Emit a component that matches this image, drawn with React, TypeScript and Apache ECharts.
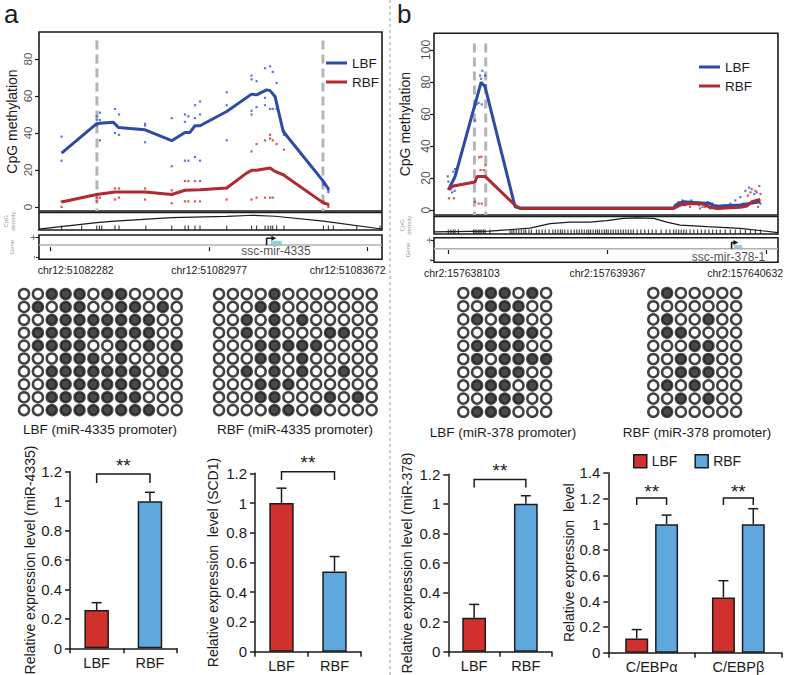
import { useEffect, useRef } from 'react';
import * as echarts from 'echarts';

const FONT = "'Liberation Sans', Arial, Helvetica, sans-serif";
const INK = '#1b1b1b';
const LBF_LINE = '#2d4ba5';
const RBF_LINE = '#b02a30';
const LBF_DOT = '#3456cc';
const RBF_DOT = '#c42f2f';
const BAR_RED = '#d1312c';
const BAR_BLUE = '#5fa8de';
const GENE_CYAN = '#8fd3de';
const DASH_GREY = '#b4b4b4';

// ---------------- panel a : methylation track ----------------
const chromA = 'chr12';
const originA = 51082282;
const axisTicksA = [51082282, 51082977, 51083672];
const windowA = [51082231, 51083735];
const methTicksA = [0, 20, 40, 60, 80];
const methRangeA = [-2.2, 94.6];
const promoterEdgesA = [203, 1194];
const lbfCurveA = [[48, 29.1], [202, 45], [216, 45.3], [275, 45.8], [297, 43], [414, 41.7], [531, 35.8], [589, 40.3], [611, 40.3], [633, 43.9], [655, 43.9], [772, 51.6], [881, 61], [903, 60.6], [947, 63.3], [962, 62.9], [984, 59.7], [1020, 40.8], [1196, 13.8], [1220, 9.3]];
const rbfCurveA = [[48, 2.7], [202, 6.7], [282, 8.1], [414, 8.1], [531, 6.7], [589, 9], [655, 9.3], [772, 10.2], [859, 18.3], [881, 19.8], [903, 19.8], [962, 21], [984, 19.2], [1020, 17.4], [1196, 2.2], [1220, 1.3]];
const lbfSitesA = [[48, 38], [48, 25], [202, 49], [202, 47], [202, 44], [216, 51], [216, 47], [216, 36], [282, 53], [282, 40], [300, 50], [300, 39], [414, 45], [414, 44], [414, 35], [531, 48], [531, 22], [589, 50], [589, 46], [589, 25], [604, 49], [604, 25], [633, 55], [633, 27], [633, 48], [655, 57], [655, 50], [655, 25], [772, 62], [772, 55], [772, 36], [881, 71], [881, 69], [881, 52], [881, 50], [903, 68], [903, 54], [940, 75], [940, 59], [940, 55], [962, 76], [962, 53], [974, 73], [974, 53], [991, 67], [991, 53], [1023, 41], [1023, 39], [1196, 12], [1196, 13], [1218, 9], [1218, 8]];
const rbfSitesA = [[48, 0], [48, 3], [202, 5], [202, 3], [216, 5], [282, 10], [282, 4], [300, 10], [300, 5], [414, 10], [414, 4], [531, 9], [531, 7], [531, 2], [589, 14], [589, 3], [604, 14], [604, 3], [633, 14], [633, 3], [655, 14], [655, 3], [772, 10], [772, 4], [881, 30], [881, 4], [903, 34], [903, 5], [940, 36], [940, 5], [962, 39], [962, 37], [962, 5], [974, 36], [974, 5], [991, 34], [1023, 31], [1196, 3], [1196, 2], [1218, 1], [1218, 0]];
const densityA = [[-53, 0.05], [202, 0.45], [282, 0.55], [531, 0.76], [772, 0.84], [889, 0.91], [984, 0.85], [1196, 0.55], [1451, 0.06]];
const cpgSitesA = [48, 136, 202, 214, 224, 282, 300, 417, 531, 589, 604, 633, 655, 772, 881, 903, 940, 954, 965, 974, 991, 1023, 1196, 1218, 1240, 1342, 1444];
const geneNameA = 'ssc-mir-4335';
const geneBoxA = [965, 1013];
const geneArrowA = [947, 979];
const geneLabelAtA = 988;

// ---------------- panel b : methylation track ----------------
const chromB = 'chr2';
const originB = 157638103;
const axisTicksB = [157638103, 157639367, 157640632];
const windowB = [157637989, 157640722];
const methTicksB = [0, 20, 40, 60, 80, 100];
const methRangeB = [-3.1, 110.4];
const promoterEdgesB = [207, 297];
const lbfCurveB = [[0, 12.5], [53, 20.8], [260, 79.8], [292, 77], [530, 2], [570, 1.3], [1789, 1.3], [1815, 3.7], [1868, 5.2], [2080, 4.1], [2120, 2], [2160, 2.5], [2319, 3.1], [2478, 5.2]];
const rbfCurveB = [[0, 13], [40, 15], [212, 17.5], [228, 21], [292, 21], [530, 3], [570, 1], [1789, 1], [1842, 3.1], [1921, 4.1], [2027, 3.7], [2080, 1.7], [2133, 1], [2319, 1.7], [2372, 2.5], [2412, 5.2], [2478, 6.6]];
const lbfSitesB = [[0, 17.7], [8, 13.5], [40, 24], [50, 12], [53, 25.6], [-5, 21], [20, 13], [30, 11], [212, 56], [225, 66], [240, 66.9], [252, 84], [260, 82], [265, 66], [270, 87], [292, 84], [298, 78], [1800, 3], [1830, 5], [1860, 6], [1880, 5], [1900, 4], [1930, 6], [1960, 5], [1990, 3], [2020, 2], [2060, 5], [2100, 4], [2130, 3], [2170, 2], [2200, 3], [2240, 4], [2280, 6], [2320, 8], [2360, 12], [2390, 14], [2410, 13], [2430, 10], [2450, 11], [2470, 6], [2480, 4]];
const rbfSitesB = [[5, 7.3], [45, 7.3], [212, 5.2], [240, 4], [245, 33], [255, 25], [262, 33.3], [265, 4], [280, 25], [295, 28], [1810, 2], [1850, 4], [1880, 3], [1920, 2], [1960, 4], [2000, 1], [2040, 2], [2080, 1], [2120, 3], [2160, 1], [2200, 2], [2250, 3], [2300, 2], [2340, 4], [2380, 9], [2400, 11], [2440, 12], [2460, 2], [2470, 15], [2480, 10]];
const densityB = [[-114, 0.13], [331, 0.18], [649, 0.36], [808, 0.64], [967, 0.73], [1126, 0.73], [1259, 0.82], [1391, 0.96], [1497, 1.0], [1630, 0.96], [1736, 0.73], [1842, 0.55], [2054, 0.45], [2319, 0.35], [2618, 0.09]];
const cpgSitesB = [0, 20, 40, 53, 80, 200, 212, 225, 240, 252, 265, 280, 292, 330, 490, 505, 520, 540, 560, 580, 600, 615, 640, 660, 700, 720, 745, 770, 800, 830, 850, 870, 890, 905, 925, 950, 975, 1000, 1020, 1040, 1060, 1080, 1100, 1115, 1130, 1150, 1170, 1185, 1200, 1220, 1240, 1255, 1270, 1290, 1310, 1330, 1350, 1370, 1390, 1410, 1430, 1450, 1470, 1500, 1530, 1560, 1590, 1620, 1650, 1690, 1730, 1760, 1790, 1810, 1830, 1850, 1870, 1890, 1920, 1950, 1980, 2010, 2040, 2070, 2100, 2130, 2160, 2200, 2240, 2280, 2320, 2360, 2400, 2440, 2480];
const geneNameB = 'ssc-mir-378-1';
const geneBoxB = [2268, 2335];
const geneArrowB = [2250, 2285];
const geneLabelAtB = 2226;

// gene strand ticks (+ / -)
const strandTicks = [0.82, -0.82];
const densityTitle = 'CpG\ndensity';
const geneTitle = 'Gene';

// ---------------- bisulfite clones (1 = methylated CpG) ----------------
const clonesLbfA = ['001110110000', '010110011010', '001111111100', '011111111100', '011110010101', '000111010000', '001111111010', '001111111000', '001111111000', '001111111100'];
const clonesRbfA = ['000010000000', '000110000000', '001010100000', '001010001100', '000111110000', '000110100000', '001010100100', '000111000000', '000110001010', '000011010000'];
const clonesLbfB = ['0111010', '0011100', '0101100', '0011110', '0111100', '0101111', '0011100', '0111010', '0011100', '0111000'];
const clonesRbfB = ['0100000', '0000000', '0100100', '0110000', '0001100', '0010100', '0011100', '0101000', '0010100', '0100000'];
const cloneTitles = ['LBF (miR-4335 promoter)', 'RBF (miR-4335 promoter)', 'LBF (miR-378 promoter)', 'RBF (miR-378 promoter)'];

// ---------------- qPCR bars ----------------
const groups = ['LBF', 'RBF'];
const mir4335Mean = [0.26, 1.0];
const mir4335Err = [0.05, 0.06];
const scd1Mean = [1.0, 0.54];
const scd1Err = [0.1, 0.1];
const mir378Mean = [0.23, 1.0];
const mir378Err = [0.09, 0.055];
const cebpGenes = ['C/EBPα', 'C/EBPβ'];
const cebpLbfMean = [0.11, 0.43];
const cebpLbfErr = [0.07, 0.13];
const cebpRbfMean = [1.0, 1.0];
const cebpRbfErr = [0.07, 0.12];
const barTicks12 = [0, 1.2, 0.2];
const barTicks14 = [0, 1.4, 0.2];

const shift = (origin: number, pts: number[][]) => pts.map(([o, v]) => [origin + o, v]);

function tf(size: number, extra: any = {}) {
  return { fontFamily: FONT, fontSize: size, color: INK, ...extra };
}

function buildOption() {
  const grid: any[] = [];
  const xAxis: any[] = [];
  const yAxis: any[] = [];
  const series: any[] = [];

  const addGrid = (g: any) => {
    grid.push({ outerBoundsMode: 'none', containLabel: false, ...g });
    return grid.length - 1;
  };

  // rotated (R-style) labels, anchored at axis coordinates; shift is leftwards in px
  const rotatedLabels = (g: number, pts: number[][], texts: string[], leftShift: number, size: number, color = INK, lineHeight?: number) => {
    series.push({
      type: 'scatter', name: 'axis text', xAxisIndex: g, yAxisIndex: g, silent: true, z: 6,
      symbolSize: 1, itemStyle: { color: 'transparent' }, clip: false,
      label: {
        show: true, position: 'inside', rotate: 90, offset: [0, -leftShift],
        align: 'center', verticalAlign: 'middle',
        formatter: (p: any) => texts[p.dataIndex],
        fontFamily: FONT, fontSize: size, color, ...(lineHeight ? { lineHeight } : {}),
      },
      data: pts,
    });
  };

  // ---------- genome track panels ----------
  const track = (cfg: any) => {
    const gm = addGrid({ left: cfg.left, top: cfg.methTop, width: cfg.width, height: cfg.methH, show: true, borderColor: INK, borderWidth: 1.6 });
    const gd = addGrid({ left: cfg.left, top: cfg.densTop, width: cfg.width, height: cfg.densH, show: true, borderColor: INK, borderWidth: 1.6 });
    const gg = addGrid({ left: cfg.left, top: cfg.geneTop, width: cfg.width, height: cfg.geneH, show: true, borderColor: INK, borderWidth: 1.6 });
    const [xmin, xmax] = cfg.window;
    xAxis.push({ type: 'value', gridIndex: gm, min: xmin, max: xmax, show: false });
    xAxis.push({ type: 'value', gridIndex: gd, min: xmin, max: xmax, show: false });
    const ticks = cfg.ticks as number[];
    xAxis.push({
      type: 'value', gridIndex: gg, min: xmin, max: xmax,
      axisLine: { show: false }, splitLine: { show: false },
      axisTick: { show: true, length: 4, lineStyle: { color: INK, width: 1.2 }, customValues: ticks },
      axisLabel: {
        customValues: ticks, margin: 5, ...tf(10.5),
        formatter: (v: number) => {
          const i = ticks.findIndex((t) => Math.abs(t - v) < 0.5);
          const t = cfg.chrom + ':' + Math.round(v);
          return i === 0 ? `{f|${t}}` : i === ticks.length - 1 ? `{l|${t}}` : `{m|${t}}`;
        },
        rich: {
          f: { ...tf(10.5), padding: [0, 0, 0, cfg.padFirst] },
          m: { ...tf(10.5) },
          l: { ...tf(10.5), padding: [0, cfg.padLast, 0, 0] },
        },
      },
    });
    yAxis.push({
      type: 'value', gridIndex: gm, min: cfg.methRange[0], max: cfg.methRange[1],
      axisLine: { show: false }, splitLine: { show: false },
      axisTick: { show: true, length: 4, lineStyle: { color: INK, width: 1.2 }, customValues: cfg.methTicks },
      axisLabel: { show: false },
      name: 'CpG methylation', nameLocation: 'middle', nameRotate: 90, nameGap: cfg.nameGap,
      nameTextStyle: tf(14),
    });
    yAxis.push({ type: 'value', gridIndex: gd, min: 0, max: 1.08, show: false });
    yAxis.push({
      type: 'value', gridIndex: gg, min: -1, max: 1,
      axisLine: { show: false }, splitLine: { show: false },
      axisTick: { show: true, length: 3, lineStyle: { color: INK, width: 1 }, customValues: strandTicks },
      axisLabel: { show: false },
    });
    rotatedLabels(gm, cfg.methTicks.map((v: number) => [xmin, v]), cfg.methTicks.map((v: number) => String(v)), cfg.labelOffset, cfg.tickFont);
    rotatedLabels(gg, strandTicks.map((v) => [xmin, v]), strandTicks.map((v) => (v > 0 ? '+' : '-')), cfg.strandOffset, 11);
    rotatedLabels(gd, [[xmin, 0.54]], [densityTitle], cfg.titleOffset, 6, '#777', 7);
    rotatedLabels(gg, [[xmin, 0]], [geneTitle], cfg.titleOffset - 3, 6, '#777');

    const o = cfg.origin;
    cfg.promoter.forEach((p: number) => {
      series.push({
        type: 'line', name: 'promoter', xAxisIndex: gm, yAxisIndex: gm, z: 1, silent: true,
        data: [[o + p, cfg.dashTop], [o + p, cfg.methRange[0]]], symbol: 'none',
        lineStyle: { color: DASH_GREY, width: 3, type: [9, 5] },
      });
    });
    series.push({
      type: 'scatter', name: 'LBF sites', xAxisIndex: gm, yAxisIndex: gm, z: 2, silent: true,
      symbol: 'rect', symbolSize: 2.2, itemStyle: { color: LBF_DOT }, data: shift(o, cfg.lbfSites),
    });
    series.push({
      type: 'scatter', name: 'RBF sites', xAxisIndex: gm, yAxisIndex: gm, z: 2, silent: true,
      symbol: 'rect', symbolSize: 2.2, itemStyle: { color: RBF_DOT }, data: shift(o, cfg.rbfSites),
    });
    series.push({
      type: 'line', name: 'LBF', xAxisIndex: gm, yAxisIndex: gm, z: 4, symbol: 'none',
      color: LBF_LINE, lineStyle: { color: LBF_LINE, width: 3 }, data: shift(o, cfg.lbfCurve),
    });
    series.push({
      type: 'line', name: 'RBF', xAxisIndex: gm, yAxisIndex: gm, z: 4, symbol: 'none',
      color: RBF_LINE, lineStyle: { color: RBF_LINE, width: 3 }, data: shift(o, cfg.rbfCurve),
    });
    series.push({
      type: 'line', name: 'CpG density', xAxisIndex: gd, yAxisIndex: gd, symbol: 'none', silent: true,
      lineStyle: { color: INK, width: 1.2 }, data: shift(o, cfg.density),
    });
    series.push({
      type: 'scatter', name: 'CpG sites', xAxisIndex: gd, yAxisIndex: gd, silent: true,
      symbol: 'rect', symbolSize: [1.2, 4.5], symbolOffset: [0, -2.25], itemStyle: { color: INK },
      data: cfg.sites.map((s: number) => [o + s, 0]),
    });
    series.push({
      type: 'line', name: 'gene axis', xAxisIndex: gg, yAxisIndex: gg, symbol: 'none', silent: true,
      lineStyle: { color: '#b0b0b0', width: 1.5 }, data: [[xmin, cfg.geneLine], [xmax, cfg.geneLine]],
      markArea: {
        silent: true, itemStyle: { color: GENE_CYAN },
        data: [[{ coord: [o + cfg.geneBox[0], cfg.geneLine - 0.02] }, { coord: [o + cfg.geneBox[1], cfg.geneBoxTop] }]],
      },
    });
    series.push({
      type: 'line', name: 'TSS', xAxisIndex: gg, yAxisIndex: gg, silent: true, z: 5,
      lineStyle: { color: INK, width: 1.6 },
      data: [
        { value: [o + cfg.arrow[0], cfg.geneLine], symbol: 'none' },
        { value: [o + cfg.arrow[0], cfg.arrowTop], symbol: 'none' },
        { value: [o + cfg.arrow[1], cfg.arrowTop], symbol: 'triangle', symbolSize: 5, symbolRotate: -90, itemStyle: { color: INK } },
      ],
      symbol: 'none',
    });
    series.push({
      type: 'scatter', name: 'gene name', xAxisIndex: gg, yAxisIndex: gg, silent: true, z: 6,
      symbolSize: 1, itemStyle: { color: 'transparent' },
      label: { show: true, position: 'inside', formatter: cfg.geneName, ...tf(12) },
      data: [[o + cfg.geneLabelAt, cfg.geneLabelY]],
    });
  };

  track({
    left: 39, width: 343, methTop: 32, methH: 179, densTop: 212.5, densH: 17.5, geneTop: 235, geneH: 24.3,
    window: windowA, ticks: axisTicksA, chrom: chromA, origin: originA, padFirst: 50, padLast: 40,
    methRange: methRangeA, methTicks: methTicksA, tickFont: 11.5, labelOffset: 11, strandOffset: 6, titleOffset: 30, nameGap: 20, dashTop: 90,
    promoter: promoterEdgesA, lbfCurve: lbfCurveA, rbfCurve: rbfCurveA, lbfSites: lbfSitesA, rbfSites: rbfSitesA,
    density: densityA, sites: cpgSitesA, geneLine: 0.18, geneBox: geneBoxA, geneBoxTop: 0.53, arrow: geneArrowA,
    arrowTop: 0.73, geneName: geneNameA, geneLabelAt: geneLabelAtA, geneLabelY: -0.32,
  });
  track({
    left: 434, width: 344, methTop: 33.3, methH: 181.7, densTop: 216.5, densH: 17.5, geneTop: 237.7, geneH: 24.6,
    window: windowB, ticks: axisTicksB, chrom: chromB, origin: originB, padFirst: 27, padLast: 43,
    methRange: methRangeB, methTicks: methTicksB, tickFont: 12, labelOffset: 8.5, strandOffset: 5.5, titleOffset: 29, nameGap: 22, dashTop: 104,
    promoter: promoterEdgesB, lbfCurve: lbfCurveB, rbfCurve: rbfCurveB, lbfSites: lbfSitesB, rbfSites: rbfSitesB,
    density: densityB, sites: cpgSitesB, geneLine: 0.1, geneBox: geneBoxB, geneBoxTop: 0.41, arrow: geneArrowB,
    arrowTop: 0.6, geneName: geneNameB, geneLabelAt: geneLabelAtB, geneLabelY: -0.54,
  });

  // ---------- bisulfite lollipops ----------
  const clones = (rows: string[], left: number, top: number, pitchX: number, pitchY: number) => {
    const cols = rows[0].length;
    const g = addGrid({ left: left - pitchX / 2, top: top - pitchY / 2, width: pitchX * cols, height: pitchY * rows.length });
    xAxis.push({ type: 'value', gridIndex: g, min: -0.5, max: cols - 0.5, show: false });
    yAxis.push({ type: 'value', gridIndex: g, min: -0.5, max: rows.length - 0.5, inverse: true, show: false });
    const filled: number[][] = [];
    const open: number[][] = [];
    rows.forEach((row, r) => row.split('').forEach((ch, c) => (ch === '1' ? filled : open).push([c, r])));
    series.push({
      type: 'scatter', name: 'methylated', xAxisIndex: g, yAxisIndex: g, silent: true, symbolSize: 10,
      itemStyle: { color: '#1c1c1c', borderColor: '#1c1c1c', borderWidth: 2.5 }, data: filled,
    });
    series.push({
      type: 'scatter', name: 'unmethylated', xAxisIndex: g, yAxisIndex: g, silent: true, symbolSize: 10,
      itemStyle: { color: '#fff', borderColor: '#111', borderWidth: 2.5 }, data: open,
    });
  };
  clones(clonesLbfA, 24, 294, 13.88, 12.9);
  clones(clonesRbfA, 219, 294, 13.88, 12.9);
  clones(clonesLbfB, 463.3, 293, 13.8, 13.2);
  clones(clonesRbfB, 653.3, 293, 13.8, 13.2);

  // ---------- bar charts ----------
  const errRender = (barFrac: number, gapFrac: number) => (params: any, api: any) => {
    const band = api.size([1, 0])[0];
    const side = api.value(3);
    const off = side * band * barFrac * (1 + gapFrac) / 2;
    const base = api.coord([api.value(0), api.value(1)]);
    const tip = api.coord([api.value(0), api.value(1) + api.value(2)]);
    const x = base[0] + off;
    const st = { stroke: INK, lineWidth: 1.5 };
    return {
      type: 'group',
      children: [
        { type: 'line', shape: { x1: x, y1: base[1], x2: x, y2: tip[1] }, style: st },
        { type: 'line', shape: { x1: x - 5, y1: tip[1], x2: x + 5, y2: tip[1] }, style: st },
      ],
    };
  };
  const bracketRender = (barFrac: number, gapFrac: number) => (params: any, api: any) => {
    const band = api.size([1, 0])[0];
    const unit = band * barFrac * (1 + gapFrac) / 2;
    const top0 = api.coord([api.value(0), api.value(4)]);
    const bot0 = api.coord([api.value(0), api.value(5)]);
    const top1 = api.coord([api.value(2), api.value(4)]);
    const star = api.coord([api.value(0), api.value(6)]);
    const x0 = top0[0] + api.value(1) * unit;
    const x1 = top1[0] + api.value(3) * unit;
    return {
      type: 'group',
      children: [
        {
          type: 'polyline',
          shape: { points: [[x0, bot0[1]], [x0, top0[1]], [x1, top0[1]], [x1, bot0[1]]] },
          style: { stroke: INK, lineWidth: 1.5, fill: 'none' },
        },
        {
          type: 'text',
          style: { text: '**', x: (x0 + x1) / 2, y: star[1], align: 'center', verticalAlign: 'middle', fontSize: 19, fontFamily: FONT, fill: INK },
        },
      ],
    };
  };

  const barPanel = (cfg: any) => {
    const g = addGrid({ left: cfg.left, top: cfg.top, width: cfg.width, height: cfg.height });
    xAxis.push({
      type: 'category', gridIndex: g, data: cfg.cats, boundaryGap: true,
      axisLine: { show: true, lineStyle: { color: INK, width: 1.5 } },
      axisTick: { show: true, alignWithLabel: false, length: 5, lineStyle: { color: INK, width: 1.5 } },
      axisLabel: { margin: 7, ...tf(14.5) }, splitLine: { show: false },
    });
    yAxis.push({
      type: 'value', gridIndex: g, min: cfg.ticks[0], max: cfg.ticks[1], interval: cfg.ticks[2],
      axisLine: { show: true, lineStyle: { color: INK, width: 1.5 } },
      axisTick: { show: true, length: 5, lineStyle: { color: INK, width: 1.5 } },
      axisLabel: { margin: 8, ...tf(15) }, splitLine: { show: false },
      name: cfg.title, nameLocation: 'middle', nameRotate: 90, nameGap: cfg.nameGap, nameTextStyle: tf(14),
    });
    return g;
  };

  const single = (cfg: any, mean: number[], err: number[], brk: number[]) => {
    const g = barPanel(cfg);
    series.push({
      type: 'bar', name: cfg.title, xAxisIndex: g, yAxisIndex: g, barWidth: '46%',
      data: mean.map((v, i) => ({ value: v, itemStyle: { color: i === 0 ? BAR_RED : BAR_BLUE } })),
      itemStyle: { borderColor: INK, borderWidth: 1.5 }, silent: true,
    });
    series.push({
      type: 'custom', name: 'sem', xAxisIndex: g, yAxisIndex: g, silent: true, z: 5,
      renderItem: errRender(0, 0), data: mean.map((v, i) => [i, v, err[i], 0]),
    });
    series.push({
      type: 'custom', name: 'signif', xAxisIndex: g, yAxisIndex: g, silent: true, z: 5, clip: false,
      renderItem: bracketRender(0, 0), data: [[0, 0, 1, 0, brk[0], brk[1], brk[2]]],
    });
  };

  single({ left: 70, top: 471.7, width: 106.6, height: 176.6, ticks: barTicks12, cats: groups, title: 'Relative expression level (miR-4335)', nameGap: 30 },
    mir4335Mean, mir4335Err, [1.184, 1.123, 1.245]);
  single({ left: 255, top: 473.3, width: 106, height: 178.4, ticks: barTicks12, cats: groups, title: 'Relative expression  level (SCD1)', nameGap: 35 },
    scd1Mean, scd1Err, [1.21, 1.155, 1.27]);
  single({ left: 448.3, top: 474.3, width: 103.4, height: 177.4, ticks: barTicks12, cats: groups, title: 'Relative expression level (miR-378)', nameGap: 34 },
    mir378Mean, mir378Err, [1.165, 1.11, 1.225]);

  const BW = 0.265;
  const GAP = 0.3;
  const g4 = barPanel({ left: 608.3, top: 472.7, width: 173.4, height: 180, ticks: barTicks14, cats: cebpGenes, title: 'Relative expression  level', nameGap: 31 });
  series.push({
    type: 'bar', name: 'LBF', xAxisIndex: g4, yAxisIndex: g4, barWidth: `${BW * 100}%`, barGap: `${GAP * 100}%`,
    data: cebpLbfMean, itemStyle: { color: BAR_RED, borderColor: INK, borderWidth: 1.5 }, silent: true,
  });
  series.push({
    type: 'bar', name: 'RBF', xAxisIndex: g4, yAxisIndex: g4, barWidth: `${BW * 100}%`, barGap: `${GAP * 100}%`,
    data: cebpRbfMean, itemStyle: { color: BAR_BLUE, borderColor: INK, borderWidth: 1.5 }, silent: true,
  });
  series.push({
    type: 'custom', name: 'sem', xAxisIndex: g4, yAxisIndex: g4, silent: true, z: 5,
    renderItem: errRender(BW, GAP),
    data: [
      ...cebpLbfMean.map((v, i) => [i, v, cebpLbfErr[i], -1]),
      ...cebpRbfMean.map((v, i) => [i, v, cebpRbfErr[i], 1]),
    ],
  });
  series.push({
    type: 'custom', name: 'signif', xAxisIndex: g4, yAxisIndex: g4, silent: true, z: 5, clip: false,
    renderItem: bracketRender(BW, GAP),
    data: [[0, -1, 0, 1, 1.203, 1.148, 1.255], [1, -1, 1, 1, 1.203, 1.148, 1.255]],
  });

  const lineLegend = (left: number, top: number) => ({
    left, top, orient: 'vertical', itemWidth: 21, itemHeight: 3, itemGap: 5, selectedMode: false,
    textStyle: tf(13.5), padding: 0,
    data: [
      { name: 'LBF', icon: 'rect', itemStyle: { color: LBF_LINE, borderWidth: 0 } },
      { name: 'RBF', icon: 'rect', itemStyle: { color: RBF_LINE, borderWidth: 0 } },
    ],
  });

  const graphic: any[] = [
    { type: 'text', left: 4, top: 1, style: { text: 'a', fontSize: 26, fontFamily: FONT, fill: INK } },
    { type: 'text', left: 397, top: 1, style: { text: 'b', fontSize: 26, fontFamily: FONT, fill: INK } },
    { type: 'line', shape: { x1: 390, y1: 0, x2: 390, y2: 675 }, style: { stroke: '#bdbdb0', lineWidth: 1.5, lineDash: [3, 3] } },
    { type: 'text', x: 100, y: 429, style: { text: cloneTitles[0], align: 'center', verticalAlign: 'middle', fontSize: 13.5, fontFamily: FONT, fill: INK } },
    { type: 'text', x: 295, y: 429, style: { text: cloneTitles[1], align: 'center', verticalAlign: 'middle', fontSize: 13.5, fontFamily: FONT, fill: INK } },
    { type: 'text', x: 503, y: 432, style: { text: cloneTitles[2], align: 'center', verticalAlign: 'middle', fontSize: 13.5, fontFamily: FONT, fill: INK } },
    { type: 'text', x: 697, y: 432, style: { text: cloneTitles[3], align: 'center', verticalAlign: 'middle', fontSize: 13.5, fontFamily: FONT, fill: INK } },
  ];

  return {
    animation: false,
    backgroundColor: '#fff',
    textStyle: { fontFamily: FONT },
    grid, xAxis, yAxis, series, graphic,
    legend: [
      lineLegend(326, 56),
      lineLegend(699, 60),
      {
        left: 633, top: 454, orient: 'horizontal', itemWidth: 13, itemHeight: 13, itemGap: 17, selectedMode: false,
        textStyle: tf(14), padding: 0,
        data: [
          { name: 'LBF', icon: 'rect', itemStyle: { color: BAR_RED, borderColor: INK, borderWidth: 1.5 } },
          { name: 'RBF', icon: 'rect', itemStyle: { color: BAR_BLUE, borderColor: INK, borderWidth: 1.5 } },
        ],
      },
    ],
  };
}

export default function App() {
  const ref = useRef<HTMLDivElement>(null);
  useEffect(() => {
    if (!ref.current) return;
    const chart = echarts.init(ref.current, null, { renderer: 'svg' });
    chart.setOption(buildOption() as any);
    return () => chart.dispose();
  }, []);
  return <div ref={ref} style={{ position: 'absolute', left: 0, top: 0, width: 787, height: 675 }} />;
}
